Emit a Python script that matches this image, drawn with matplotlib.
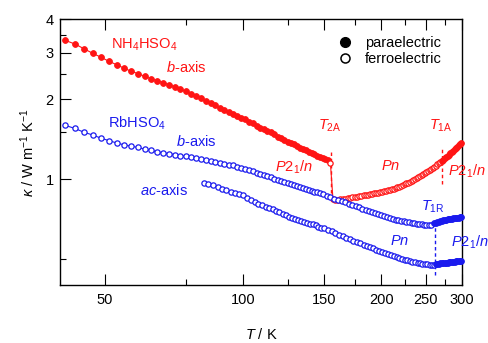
import numpy as np
import matplotlib
matplotlib.use("Agg")
import matplotlib.pyplot as plt
from matplotlib.ticker import FixedLocator, NullFormatter, FuncFormatter
from matplotlib.lines import Line2D

plt.rcParams['font.family'] = ['Liberation Sans', 'DejaVu Sans']
plt.rcParams['mathtext.fontset'] = 'custom'
plt.rcParams['mathtext.rm'] = 'Liberation Sans'
plt.rcParams['mathtext.it'] = 'Liberation Sans:italic'
plt.rcParams['mathtext.bf'] = 'Liberation Sans:bold'

RED = '#ff1414'
BLUE = '#1a1aee'

# ----------------------------
# NH4HSO4, b-axis (red)
# ----------------------------
nh4_para_lo_T = [41, 43, 45, 47, 49, 51, 53, 55, 57, 59, 61, 63, 65, 67, 69, 71, 73, 75,
                 77, 79, 81, 83, 85, 87, 89, 91, 93, 95, 97, 99, 101, 103, 105, 107, 109,
                 111, 113, 115, 117, 119, 121, 123, 125, 127, 129, 131, 133, 135, 137, 139,
                 141, 143, 145, 147, 149, 151, 153]
nh4_para_lo_k = [3.33, 3.23, 3.10, 2.98, 2.88, 2.78, 2.70, 2.62, 2.55, 2.50, 2.44, 2.39,
                 2.35, 2.31, 2.27, 2.23, 2.19, 2.14, 2.10, 2.065, 2.02, 1.97, 1.935, 1.90,
                 1.85, 1.815, 1.79, 1.765, 1.735, 1.70, 1.68, 1.64, 1.625, 1.59, 1.565,
                 1.548, 1.525, 1.50, 1.475, 1.445, 1.428, 1.405, 1.385, 1.368, 1.352, 1.334,
                 1.316, 1.302, 1.288, 1.272, 1.258, 1.243, 1.228, 1.214, 1.200, 1.190, 1.180]

nh4_ferro_T = [155, 157, 159, 161, 163, 165, 167, 169, 171, 173, 175, 177, 179, 181, 183,
               185, 187, 189, 191, 193, 195, 197, 199, 201, 203, 205, 207, 209, 211, 213,
               215, 217, 219, 221, 223, 225, 227, 229, 231, 233, 235, 237, 239, 241, 243,
               245, 247, 249, 251, 253, 255, 257, 259, 261, 263, 265, 267, 269]
nh4_ferro_k = [1.15, 0.841, 0.838, 0.839, 0.840, 0.842, 0.845, 0.848, 0.851, 0.855, 0.857,
               0.860, 0.864, 0.867, 0.870, 0.873, 0.876, 0.879, 0.882, 0.885, 0.888, 0.891,
               0.894, 0.898, 0.901, 0.905, 0.909, 0.913, 0.917, 0.922, 0.927, 0.932, 0.938,
               0.945, 0.951, 0.958, 0.965, 0.972, 0.979, 0.986, 0.993, 1.001, 1.009, 1.017,
               1.026, 1.035, 1.045, 1.055, 1.065, 1.075, 1.085, 1.095, 1.105, 1.115, 1.126,
               1.138, 1.150, 1.162]

nh4_para_hi_T = [271, 273, 275, 277, 279, 281, 283, 285, 287, 289, 291, 293, 295, 297, 299]
nh4_para_hi_k = [1.172, 1.186, 1.199, 1.212, 1.225, 1.238, 1.252, 1.266, 1.281, 1.296,
                 1.311, 1.326, 1.341, 1.356, 1.372]

# ----------------------------
# RbHSO4, b-axis (blue)
# ----------------------------
rb_b_ferro_T = [41, 43, 45, 47, 49, 51, 53, 55, 57, 59, 61, 63, 65, 67, 69, 71, 73, 75, 77,
                79, 81, 83, 85, 87, 89, 91, 93, 95, 97, 99, 101, 103, 105, 107, 109, 111,
                113, 115, 117, 119, 121, 123, 125, 127, 129, 131, 133, 135, 137, 139, 141,
                143, 145, 147, 149, 152, 155, 158, 161, 164, 167, 170, 173, 176, 179, 182,
                185, 188, 191, 194, 197, 200, 203, 206, 209, 212, 215, 218, 221, 224, 227,
                230, 233, 236, 239, 242, 245, 248, 251, 254, 257]
rb_b_ferro_k = [1.595, 1.553, 1.503, 1.468, 1.428, 1.398, 1.370, 1.348, 1.332, 1.317, 1.299,
                1.284, 1.268, 1.258, 1.249, 1.238, 1.228, 1.219, 1.208, 1.199, 1.190, 1.180,
                1.171, 1.162, 1.152, 1.144, 1.135, 1.127, 1.116, 1.105, 1.095, 1.083, 1.070,
                1.058, 1.046, 1.036, 1.025, 1.016, 1.005, 0.995, 0.986, 0.976, 0.965, 0.958,
                0.950, 0.944, 0.938, 0.928, 0.918, 0.911, 0.905, 0.899, 0.892, 0.885, 0.879,
                0.868, 0.857, 0.845, 0.838, 0.829, 0.818, 0.810, 0.800, 0.792, 0.784, 0.776,
                0.768, 0.760, 0.752, 0.745, 0.738, 0.732, 0.726, 0.720, 0.715, 0.710, 0.705,
                0.701, 0.697, 0.694, 0.691, 0.688, 0.685, 0.683, 0.681, 0.679, 0.677, 0.675,
                0.673, 0.672, 0.671]

rb_b_para_T = [261, 263, 265, 267, 269, 271, 273, 275, 277, 279, 281, 283, 285, 287, 289,
               291, 293, 295, 297, 299]
rb_b_para_k = [0.682, 0.686, 0.689, 0.693, 0.696, 0.698, 0.700, 0.702, 0.704, 0.706, 0.708,
               0.709, 0.711, 0.712, 0.713, 0.715, 0.716, 0.717, 0.719, 0.720]

# ----------------------------
# RbHSO4, ac-axis (blue)
# ----------------------------
rb_ac_ferro_T = [82, 84, 86, 88, 90, 92, 94, 96, 98, 100, 102, 104, 106, 108, 110, 112, 114,
                 116, 118, 120, 122, 124, 126, 128, 130, 132, 134, 136, 138, 140, 142, 144,
                 146, 148, 150, 153, 156, 159, 162, 165, 168, 171, 174, 177, 180, 183, 186,
                 189, 192, 195, 198, 201, 204, 207, 210, 213, 216, 219, 222, 225, 228, 231,
                 234, 237, 240, 243, 246, 249, 252, 255, 258, 261]
rb_ac_ferro_k = [0.972, 0.961, 0.950, 0.936, 0.922, 0.911, 0.895, 0.885, 0.877, 0.872, 0.848,
                 0.838, 0.823, 0.810, 0.798, 0.789, 0.782, 0.772, 0.761, 0.750, 0.741, 0.732,
                 0.724, 0.717, 0.710, 0.703, 0.698, 0.692, 0.687, 0.681, 0.676, 0.671, 0.664,
                 0.657, 0.653, 0.647, 0.638, 0.628, 0.618, 0.611, 0.602, 0.594, 0.588, 0.581,
                 0.574, 0.568, 0.561, 0.555, 0.549, 0.543, 0.538, 0.533, 0.528, 0.523, 0.518,
                 0.514, 0.510, 0.506, 0.502, 0.498, 0.495, 0.492, 0.489, 0.487, 0.485, 0.483,
                 0.481, 0.479, 0.478, 0.477, 0.476, 0.476]

rb_ac_para_T = [263, 265, 267, 269, 271, 273, 275, 277, 279, 281, 283, 285, 287, 289, 291,
                293, 295, 297, 299]
rb_ac_para_k = [0.478, 0.480, 0.481, 0.482, 0.483, 0.484, 0.485, 0.486, 0.486, 0.487, 0.488,
                0.489, 0.489, 0.490, 0.491, 0.491, 0.492, 0.493, 0.493]

# transition temperatures and dotted marker ranges
T2A, T2A_range = 155.3, (0.89, 1.29)
T1A, T1A_range = 271, (0.96, 1.30)
T1R, T1R_range = 262, (0.435, 0.69)

# ----------------------------
# Plot
# ----------------------------
fig = plt.figure(figsize=(4.89, 3.43), dpi=100)
ax = fig.add_axes([0.1237, 0.1691, 0.8211, 0.7746])
ax.set_xscale('log')
ax.set_yscale('log')

filled = dict(marker='o', ls='none', ms=4.2, mew=0.6)
opened = dict(marker='o', ls='none', ms=3.8, mew=0.9, mfc='white')


def draw(segments, color):
    # thin connecting line under the markers
    T_all = np.concatenate([s[0] for s in segments])
    k_all = np.concatenate([s[1] for s in segments])
    ax.plot(T_all, k_all, '-', color=color, lw=0.8, zorder=2)
    for T, k, style in segments:
        ax.plot(T, k, color=color, mec=color, zorder=3, clip_on=False, **style)


draw([(nh4_para_lo_T, nh4_para_lo_k, filled),
      (nh4_ferro_T, nh4_ferro_k, opened),
      (nh4_para_hi_T, nh4_para_hi_k, filled)], RED)
draw([(rb_b_ferro_T, rb_b_ferro_k, opened),
      (rb_b_para_T, rb_b_para_k, filled)], BLUE)
draw([(rb_ac_ferro_T, rb_ac_ferro_k, opened),
      (rb_ac_para_T, rb_ac_para_k, filled)], BLUE)

dots = (0, (2.5, 2))
ax.plot([T2A, T2A], T2A_range, color=RED, lw=1, ls=dots, zorder=1)
ax.plot([T1A, T1A], T1A_range, color=RED, lw=1, ls=dots, zorder=1)
ax.plot([T1R, T1R], T1R_range, color=BLUE, lw=1, ls=dots, zorder=1)

# labels
fs = 10.5
ax.text(51.5, 3.22, r'NH$_4$HSO$_4$', color=RED, fontsize=fs, va='center')
ax.text(67.9, 2.64, r'$b$-axis', color=RED, fontsize=fs, va='center')
ax.text(50.8, 1.63, r'RbHSO$_4$', color=BLUE, fontsize=fs, va='center')
ax.text(71.4, 1.393, r'$b$-axis', color=BLUE, fontsize=fs, va='center')
ax.text(59.6, 0.909, r'$ac$-axis', color=BLUE, fontsize=fs, va='center')
ax.text(154.6, 1.596, r'$T_{\rm 2A}$', color=RED, fontsize=fs, va='center', ha='center')
ax.text(270, 1.596, r'$T_{\rm 1A}$', color=RED, fontsize=fs, va='center', ha='center')
ax.text(117.3, 1.112, r'$P$2$_1$/$n$', color=RED, fontsize=fs, va='center')
ax.text(199.5, 1.122, r'$Pn$', color=RED, fontsize=fs, va='center')
ax.text(279.5, 1.074, r'$P$2$_1$/$n$', color=RED, fontsize=fs, va='center')
ax.text(259, 0.787, r'$T_{\rm 1R}$', color=BLUE, fontsize=fs, va='center', ha='center')
ax.text(209, 0.585, r'$Pn$', color=BLUE, fontsize=fs, va='center')
ax.text(283.5, 0.578, r'$P$2$_1$/$n$', color=BLUE, fontsize=fs, va='center')

handles = [Line2D([], [], marker='o', color='k', ls='none', ms=7),
           Line2D([], [], marker='o', color='k', mfc='white', mew=1.1, ls='none', ms=6.5)]
ax.legend(handles, ['paraelectric', 'ferroelectric'], loc='upper left',
          bbox_to_anchor=(0.69, 0.937), frameon=False, fontsize=fs,
          handlelength=1.0, handletextpad=0.87, borderpad=0, borderaxespad=0,
          labelspacing=0.15)

# axes
ax.set_xlim(40, 300)
ax.set_ylim(0.4, 4)
ax.xaxis.set_major_locator(FixedLocator([50, 100, 150, 200, 250, 300]))
ax.xaxis.set_minor_locator(FixedLocator([75, 125, 175, 225, 275]))
ax.yaxis.set_major_locator(FixedLocator([1, 2, 3, 4]))
ax.yaxis.set_minor_locator(FixedLocator([0.5, 1.5, 2.5, 3.5]))
ax.xaxis.set_major_formatter(FuncFormatter(lambda v, p: f'{v:g}'))
ax.yaxis.set_major_formatter(FuncFormatter(lambda v, p: f'{v:g}'))
ax.xaxis.set_minor_formatter(NullFormatter())
ax.yaxis.set_minor_formatter(NullFormatter())
ax.tick_params(which='both', direction='in', top=True, right=False, width=0.8,
               labelsize=fs)
ax.tick_params(which='major', length=8)
ax.tick_params(which='minor', length=4.3)
ax.tick_params(axis='x', pad=6)
ax.tick_params(axis='y', pad=5)
for s in ax.spines.values():
    s.set_linewidth(1.0)

ax.set_xlabel(r'$T$ / K', fontsize=fs, labelpad=14)
ax.set_ylabel(r'$\kappa$ / W m$^{-1}$ K$^{-1}$', fontsize=fs, labelpad=6)

fig.savefig('out.png', dpi=100)
